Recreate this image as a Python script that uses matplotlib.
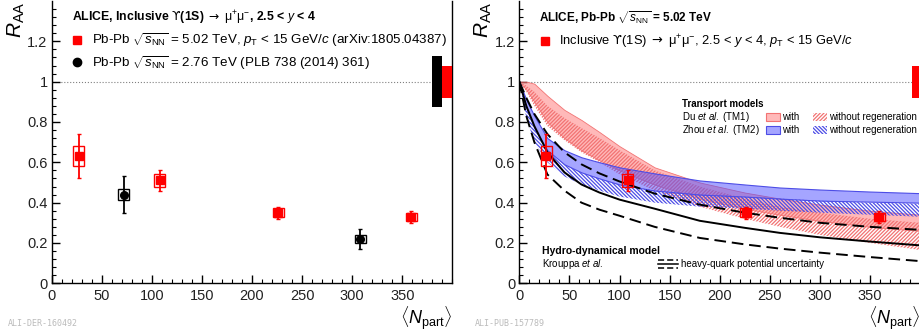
import matplotlib
matplotlib.use("Agg")
import matplotlib.pyplot as plt
import numpy as np
from matplotlib.lines import Line2D
from matplotlib.patches import Patch
from matplotlib.legend_handler import HandlerBase

plt.rcParams["font.family"] = ["Liberation Sans", "DejaVu Sans"]
plt.rcParams["mathtext.fontset"] = "custom"
plt.rcParams["mathtext.rm"] = "Liberation Sans"
plt.rcParams["mathtext.it"] = "Liberation Sans:italic"
plt.rcParams["mathtext.bf"] = "Liberation Sans:bold"
plt.rcParams["mathtext.sf"] = "DejaVu Sans"
plt.rcParams["hatch.linewidth"] = 0.9

# ALICE Y(1S) RAA vs Npart
npart_502 = [27, 108, 226, 359]
raa_502 = [0.63, 0.51, 0.35, 0.33]
stat_502 = [0.11, 0.05, 0.03, 0.03]
syst_502 = [0.05, 0.031, 0.021, 0.021]

npart_276 = [72, 308]
raa_276 = [0.44, 0.22]
stat_276 = [0.09, 0.05]
syst_276 = [0.029, 0.02]

# global uncertainties drawn at the right edge
glob_left_x = [384.75, 394.75]
glob_left_unc = [0.125, 0.08]
glob_left_col = ["black", "red"]
glob_right_x = [395.5]
glob_right_unc = [0.08]

# model curves
npart_model = [0, 7, 15, 28, 45, 62, 80, 100, 135, 180, 225, 260, 300, 350, 400]
tm1_with_hi = [1.0, 1.0, 0.99, 0.93, 0.86, 0.81, 0.75, 0.68, 0.575, 0.50, 0.45, 0.42, 0.39, 0.36, 0.34]
tm1_with_lo = [1.0, 0.96, 0.90, 0.80, 0.72, 0.66, 0.61, 0.56, 0.49, 0.42, 0.37, 0.34, 0.31, 0.28, 0.26]
tm1_wo_hi = [1.0, 0.98, 0.95, 0.88, 0.82, 0.77, 0.72, 0.66, 0.56, 0.48, 0.42, 0.38, 0.35, 0.32, 0.30]
tm1_wo_lo = [1.0, 0.95, 0.88, 0.78, 0.71, 0.65, 0.60, 0.54, 0.46, 0.38, 0.32, 0.28, 0.24, 0.20, 0.165]
tm2_with_hi = [1.0, 0.91, 0.83, 0.72, 0.66, 0.625, 0.60, 0.575, 0.545, 0.51, 0.49, 0.475, 0.465, 0.455, 0.447]
tm2_with_lo = [1.0, 0.87, 0.77, 0.66, 0.59, 0.55, 0.52, 0.49, 0.46, 0.44, 0.43, 0.42, 0.41, 0.405, 0.40]
tm2_wo_hi = [1.0, 0.87, 0.77, 0.66, 0.59, 0.55, 0.52, 0.49, 0.46, 0.44, 0.43, 0.42, 0.41, 0.40, 0.395]
tm2_wo_lo = [1.0, 0.82, 0.70, 0.60, 0.53, 0.49, 0.46, 0.43, 0.40, 0.38, 0.37, 0.36, 0.35, 0.34, 0.33]
hydro_lo = [1.0, 0.83, 0.70, 0.54, 0.46, 0.40, 0.365, 0.335, 0.28, 0.225, 0.193, 0.172, 0.152, 0.13, 0.11]
hydro_mid = [1.0, 0.88, 0.78, 0.65, 0.55, 0.49, 0.45, 0.415, 0.37, 0.31, 0.275, 0.25, 0.228, 0.207, 0.188]
hydro_hi = [1.0, 0.92, 0.84, 0.74, 0.65, 0.59, 0.545, 0.505, 0.445, 0.39, 0.35, 0.325, 0.30, 0.28, 0.265]

yticks = [0, 0.2, 0.4, 0.6, 0.8, 1.0, 1.2]
ylabels = ["0", "0.2", "0.4", "0.6", "0.8", "1", "1.2"]
xticks = [0, 50, 100, 150, 200, 250, 300, 350]

pink = (1.0, 0.35, 0.35, 0.42)
pink_line = (0.95, 0.45, 0.45)
blue = (0.3, 0.3, 1.0, 0.5)
blue_line = (0.3, 0.3, 0.9)
hatch_pink = "/////////"
hatch_blue = "\\\\\\\\\\\\\\\\\\"


class ThreeLines(HandlerBase):
    def create_artists(self, legend, orig_handle, xdescent, ydescent,
                       width, height, fontsize, trans):
        out = []
        for f, ls in [(1.0, "--"), (0.5, "-"), (0.0, "--")]:
            y = f * height - ydescent
            out.append(Line2D([-xdescent, width - xdescent], [y, y], color="black",
                              ls=ls, lw=1.1, dashes=(4, 2) if ls == "--" else (None, None),
                              transform=trans))
        return out


def style(ax):
    ax.set_xlim(0, 400)
    ax.set_ylim(0, 1.4)
    ax.set_xticks(xticks)
    ax.set_xticks(np.arange(0, 401, 10), minor=True)
    ax.set_yticks(yticks)
    ax.set_yticklabels(ylabels)
    ax.set_yticks(np.arange(0, 1.39, 0.04), minor=True)
    ax.tick_params(which="both", direction="in", top=False, right=False,
                   labelsize=10.5, labelcolor="#222222")
    ax.tick_params(which="major", length=6, width=1)
    ax.tick_params(which="minor", length=3, width=0.8)
    ax.tick_params(axis="y", pad=3)
    ax.tick_params(axis="x", pad=4)
    ax.spines["top"].set_visible(False)
    for s in ["left", "bottom", "right"]:
        ax.spines[s].set_linewidth(1.0)
    ax.axhline(1.0, color="grey", ls=":", lw=0.8, zorder=1)
    ax.text(-0.089, 1.0, r"$R_{\rm AA}$", transform=ax.transAxes, rotation=90,
            ha="center", va="top", fontsize=15)
    ax.text(1.0, -0.075, r"$\langle N_{\rm part}\rangle$", transform=ax.transAxes,
            ha="right", va="top", fontsize=13)


def draw_points(ax, x, y, stat, syst, color, marker):
    lo = [v - s for v, s in zip(y, syst)]
    ax.bar(x, [2 * s for s in syst], bottom=lo, width=11, fill=False,
           edgecolor=color, linewidth=1.0, zorder=5)
    ax.errorbar(x, y, yerr=stat, fmt=marker, color=color, ms=5.5,
                elinewidth=1.3, capsize=1.5, capthick=1.0, zorder=6)


ups = r"$\mathsf{ϒ}$(1S) $\mathsf{\rightarrow}$ $\mathrm{\mu^{+}\mu^{-}}$"

fig = plt.figure(figsize=(9.19, 3.32), dpi=100)
axL = fig.add_axes([51.7 / 919, 48.7 / 332, 400.6 / 919, 282.3 / 332])
axR = fig.add_axes([519.3 / 919, 48.7 / 332, 401.0 / 919, 282.3 / 332])

# ---------------- left panel
style(axL)
draw_points(axL, npart_502, raa_502, stat_502, syst_502, "red", "s")
draw_points(axL, npart_276, raa_276, stat_276, syst_276, "black", "o")
axL.bar(glob_left_x, [2 * u for u in glob_left_unc],
        bottom=[1 - u for u in glob_left_unc], width=[10.5, 9.5],
        color=glob_left_col, zorder=4)

axL.text(0.051, 0.940, "ALICE, Inclusive " + ups + ", 2.5 < $y$ < 4",
         transform=axL.transAxes, fontsize=8.8, fontweight="bold", va="center")
hL = [Line2D([], [], marker="s", color="red", ls="none", ms=6),
      Line2D([], [], marker="o", color="black", ls="none", ms=6)]
labL = [r"Pb-Pb $\sqrt{s_{\rm NN}}$ = 5.02 TeV, $p_{\rm T}$ < 15 GeV/$c$ (arXiv:1805.04387)",
        r"Pb-Pb $\sqrt{s_{\rm NN}}$ = 2.76 TeV (PLB 738 (2014) 361)"]
axL.legend(hL, labL, loc="center left", bbox_to_anchor=(0.049, 0.821), frameon=False,
           fontsize=9.6, handlelength=0.8, handletextpad=0.75, labelspacing=0.35,
           borderpad=0, borderaxespad=0)

# ---------------- right panel
style(axR)
axR.fill_between(npart_model, tm1_with_lo, tm1_with_hi, facecolor=pink,
                 edgecolor=pink_line, linewidth=0.6, zorder=2)
axR.fill_between(npart_model, tm1_wo_lo, tm1_wo_hi, facecolor="none",
                 edgecolor=pink_line, hatch=hatch_pink, linewidth=0, zorder=2)
axR.fill_between(npart_model, tm2_with_lo, tm2_with_hi, facecolor=blue,
                 edgecolor=blue_line, linewidth=0.8, zorder=3)
axR.fill_between(npart_model, tm2_wo_lo, tm2_wo_hi, facecolor="none",
                 edgecolor=blue_line, hatch=hatch_blue, linewidth=0, zorder=3)
axR.plot(npart_model, hydro_mid, color="black", lw=1.4, zorder=4)
axR.plot(npart_model, hydro_hi, color="black", lw=1.4, dashes=(6, 3), zorder=4)
axR.plot(npart_model, hydro_lo, color="black", lw=1.4, dashes=(6, 3), zorder=4)

draw_points(axR, npart_502, raa_502, stat_502, syst_502, "red", "s")
axR.bar(glob_right_x, [2 * u for u in glob_right_unc],
        bottom=[1 - u for u in glob_right_unc], width=8.5, color="red", zorder=4)

axR.text(0.049, 0.940, r"ALICE, Pb-Pb $\sqrt{s_{\rm NN}}$ = 5.02 TeV",
         transform=axR.transAxes, fontsize=8.5, fontweight="bold", va="center")
legR = axR.legend([Line2D([], [], marker="s", color="red", ls="none", ms=6)],
                  ["Inclusive " + ups + r", 2.5 < $y$ < 4, $p_{\rm T}$ < 15 GeV/$c$"],
                  loc="center left", bbox_to_anchor=(0.050, 0.855), frameon=False,
                  fontsize=9.3, handlelength=0.8, handletextpad=0.75,
                  borderpad=0, borderaxespad=0)
axR.add_artist(legR)

axR.text(0.406, 0.635, "Transport models", transform=axR.transAxes,
         fontsize=7, fontweight="bold", va="center")
axR.text(0.406, 0.588, r"Du $\mathit{et\ al.}$ (TM1)", transform=axR.transAxes,
         fontsize=7, va="center")
axR.text(0.406, 0.543, r"Zhou $\mathit{et\ al.}$ (TM2)", transform=axR.transAxes,
         fontsize=7, va="center")
hT = [Patch(facecolor=pink, edgecolor=pink_line, linewidth=0.8),
      Patch(facecolor=blue, edgecolor=blue_line, linewidth=0.8),
      Patch(facecolor="none", edgecolor=pink_line, hatch=hatch_pink, linewidth=0),
      Patch(facecolor="none", edgecolor=blue_line, hatch=hatch_blue, linewidth=0)]
legT = axR.legend(hT, ["with", "with", "without regeneration", "without regeneration"],
                  ncol=2, loc="center left", bbox_to_anchor=(0.615, 0.565), frameon=False,
                  fontsize=7, handlelength=1.45, handleheight=1.0, handletextpad=0.2,
                  columnspacing=1.4, labelspacing=0.3, borderpad=0, borderaxespad=0)
axR.add_artist(legT)

axR.text(0.056, 0.114, "Hydro-dynamical model", transform=axR.transAxes,
         fontsize=7.5, fontweight="bold", va="center")
axR.text(0.056, 0.067, r"Krouppa $\mathit{et\ al.}$", transform=axR.transAxes,
         fontsize=7, va="center")
axR.legend([object()], ["heavy-quark potential uncertainty"],
           handler_map={object: ThreeLines()}, loc="center left",
           bbox_to_anchor=(0.346, 0.068), frameon=False, fontsize=7,
           handlelength=2.1, handleheight=0.9, handletextpad=0.3,
           borderpad=0, borderaxespad=0)

fig.text(8 / 919, 1 - 324 / 332, "ALI-DER-160492", family="DejaVu Sans Mono",
         fontsize=6, color="#bbbbbb", va="center")
fig.text(475 / 919, 1 - 324 / 332, "ALI-PUB-157789", family="DejaVu Sans Mono",
         fontsize=6, color="#bbbbbb", va="center")

fig.savefig("out.png", dpi=100)
